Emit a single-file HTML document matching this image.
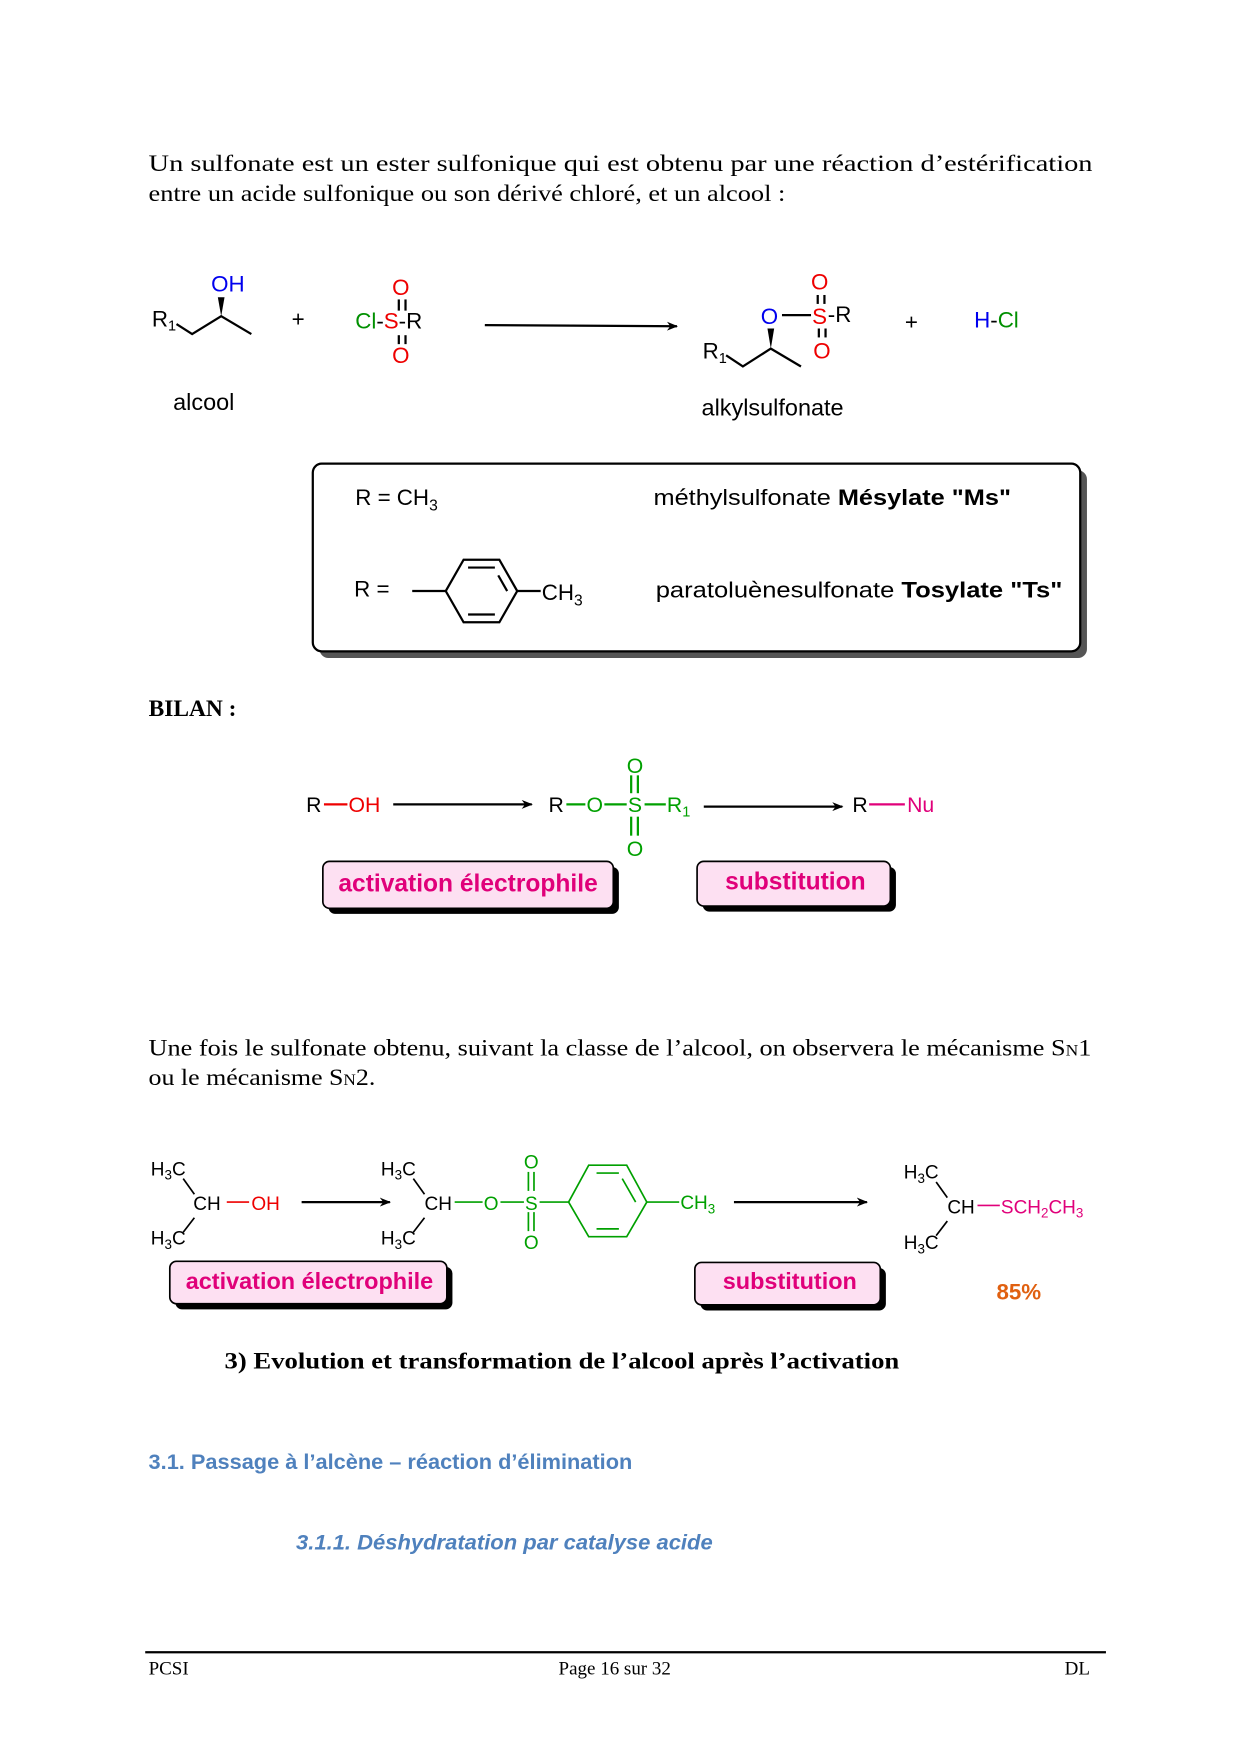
<!DOCTYPE html>
<html><head><meta charset="utf-8"><style>
html,body{margin:0;padding:0;background:#fff;}
svg{display:block;}
.serif{font-family:"Liberation Serif",serif;}
.sans{font-family:"Liberation Sans",sans-serif;}
</style></head><body>
<svg width="1240" height="1754" viewBox="0 0 1110 1570" xmlns="http://www.w3.org/2000/svg">
<defs>
<marker id="ah" markerWidth="10" markerHeight="8" refX="9" refY="4" orient="auto" markerUnits="userSpaceOnUse">
<path d="M0,0 L10,4 L0,8 L3,4 Z" fill="#000"/></marker>
</defs>
<g class="serif" font-size="21" fill="#000">
<text x="133" y="153" textLength="845" lengthAdjust="spacingAndGlyphs">Un sulfonate est un ester sulfonique qui est obtenu par une réaction d’estérification</text>
<text x="133" y="180" textLength="570" lengthAdjust="spacingAndGlyphs">entre un acide sulfonique ou son dérivé chloré, et un alcool :</text>
</g>
<!-- reaction 1 -->
<g class="sans" font-size="20">
<text x="136" y="292">R<tspan font-size="13" dy="4">1</tspan></text>
<text x="189" y="261" fill="#0000ee">OH</text>
<text x="261" y="292">+</text>
<text x="318" y="294"><tspan fill="#009000">Cl</tspan>-<tspan fill="#ee0000">S</tspan>-R</text>
<text x="351" y="264" fill="#ee0000">O</text>
<text x="351" y="325" fill="#ee0000">O</text>
<text x="681" y="290" fill="#0000ee">O</text>
<text x="727" y="290" fill="#ee0000">S</text><text x="741" y="288">-R</text>
<text x="726" y="259" fill="#ee0000">O</text>
<text x="728" y="321" fill="#ee0000">O</text>
<text x="629" y="321">R<tspan font-size="13" dy="4">1</tspan></text>
<text x="810" y="295">+</text>
<text x="872" y="293"><tspan fill="#0000ee">H</tspan>-<tspan fill="#009000">Cl</tspan></text>
<text x="155" y="367" font-size="21">alcool</text>
<text x="628" y="372" font-size="21">alkylsulfonate</text>
</g>
<g stroke="#000" stroke-width="2" fill="none">
<polyline points="158,290 172,299 198,283 225,299"/>
<polyline points="650,318 665,328 690,312 717,328"/>
<line x1="357" y1="268" x2="357" y2="278"/><line x1="363" y1="268" x2="363" y2="278"/>
<line x1="357" y1="300" x2="357" y2="308"/><line x1="363" y1="300" x2="363" y2="308"/>
<line x1="732" y1="264" x2="732" y2="272"/><line x1="738" y1="264" x2="738" y2="272"/>
<line x1="733" y1="294" x2="733" y2="302"/><line x1="739" y1="294" x2="739" y2="302"/>
<line x1="700" y1="282" x2="726" y2="282"/>
<line x1="434" y1="291" x2="606" y2="292" marker-end="url(#ah)"/>
</g>
<polygon points="198,283 195,266 201,266" fill="#000"/>
<polygon points="690,312 687,294 693,294" fill="#000"/>
<!-- box -->
<rect x="286" y="421" width="687" height="168" rx="8" fill="#555"/>
<rect x="280" y="415" width="687" height="168" rx="8" fill="#fff" stroke="#000" stroke-width="2"/>
<g class="sans" font-size="20">
<text x="318" y="452">R = CH<tspan font-size="14" dy="5">3</tspan></text>
<text x="585" y="452" textLength="320" lengthAdjust="spacingAndGlyphs">méthylsulfonate  <tspan font-weight="bold">Mésylate "Ms"</tspan></text>
<text x="317" y="534">R =</text>
<text x="485" y="537">CH<tspan font-size="14" dy="5">3</tspan></text>
<text x="587" y="535" textLength="364" lengthAdjust="spacingAndGlyphs">paratoluènesulfonate  <tspan font-weight="bold">Tosylate "Ts"</tspan></text>
</g>
<g stroke="#000" stroke-width="2" fill="none">
<line x1="369" y1="529" x2="399" y2="529"/>
<polygon points="399,529 415,501 447,501 463,529 447,557 415,557"/>
<line x1="419" y1="508" x2="443" y2="508"/><line x1="419" y1="550" x2="443" y2="550"/><line x1="454" y1="529" x2="446" y2="515"/>
<line x1="463" y1="529" x2="484" y2="529"/>
</g>
<text x="133" y="641" class="serif" font-size="21" font-weight="bold">BILAN :</text>
<!-- bilan scheme -->
<g class="sans" font-size="19">
<text x="274" y="727">R</text><text x="312" y="727" fill="#ee0000">OH</text>
<text x="491" y="727">R</text>
<text x="525" y="727" fill="#00a000">O</text><text x="562" y="727" fill="#00a000">S</text>
<text x="597" y="727" fill="#00a000">R<tspan font-size="13" dy="4">1</tspan></text>
<text x="561" y="692" fill="#00a000">O</text><text x="561" y="766" fill="#00a000">O</text>
<text x="763" y="727">R</text><text x="812" y="727" fill="#e0007a">Nu</text>
</g>
<g stroke-width="2" fill="none">
<line x1="290" y1="720" x2="311" y2="720" stroke="#ee0000"/>
<line x1="507" y1="720" x2="524" y2="720" stroke="#00a000"/>
<line x1="541" y1="720" x2="561" y2="720" stroke="#00a000"/>
<line x1="577" y1="720" x2="596" y2="720" stroke="#00a000"/>
<line x1="565" y1="694" x2="565" y2="710" stroke="#00a000"/><line x1="571" y1="694" x2="571" y2="710" stroke="#00a000"/>
<line x1="565" y1="731" x2="565" y2="748" stroke="#00a000"/><line x1="571" y1="731" x2="571" y2="748" stroke="#00a000"/>
<line x1="778" y1="720" x2="810" y2="720" stroke="#e0007a"/>
<line x1="352" y1="720" x2="476" y2="720" stroke="#000" marker-end="url(#ah)"/>
<line x1="630" y1="722" x2="754" y2="722" stroke="#000" marker-end="url(#ah)"/>
</g>
<g class="sans" font-size="22" font-weight="bold" fill="#e0007a">
<rect x="294" y="776" width="260" height="42" rx="6" fill="#000"/>
<rect x="289" y="771" width="260" height="42" rx="6" fill="#fde0f2" stroke="#000" stroke-width="1.5"/>
<text x="419" y="798" text-anchor="middle">activation électrophile</text>
<rect x="629" y="776" width="173" height="40" rx="6" fill="#000"/>
<rect x="624" y="771" width="173" height="40" rx="6" fill="#fde0f2" stroke="#000" stroke-width="1.5"/>
<text x="712" y="796" text-anchor="middle">substitution</text>
</g>
<g class="serif" font-size="21">
<text x="133" y="945" textLength="844" lengthAdjust="spacingAndGlyphs">Une fois le sulfonate obtenu, suivant la classe de l’alcool, on observera le mécanisme S<tspan font-size="14">N</tspan>1</text>
<text x="133" y="971" textLength="203" lengthAdjust="spacingAndGlyphs">ou le mécanisme S<tspan font-size="14">N</tspan>2.</text>
</g>
<!-- scheme 2 -->
<g class="sans" font-size="17">
<text x="135" y="1052">H<tspan font-size="12" dy="4">3</tspan><tspan dy="-4">C</tspan></text>
<text x="173" y="1083">CH</text><text x="225" y="1083" fill="#ee0000">OH</text>
<text x="135" y="1114">H<tspan font-size="12" dy="4">3</tspan><tspan dy="-4">C</tspan></text>
<text x="341" y="1052">H<tspan font-size="12" dy="4">3</tspan><tspan dy="-4">C</tspan></text>
<text x="380" y="1083">CH</text>
<text x="341" y="1114">H<tspan font-size="12" dy="4">3</tspan><tspan dy="-4">C</tspan></text>
<text x="433" y="1083" fill="#00a000">O</text><text x="470" y="1083" fill="#00a000">S</text>
<text x="469" y="1046" fill="#00a000">O</text><text x="469" y="1118" fill="#00a000">O</text>
<text x="609" y="1082" fill="#00a000">CH<tspan font-size="12" dy="4">3</tspan></text>
<text x="809" y="1055">H<tspan font-size="12" dy="4">3</tspan><tspan dy="-4">C</tspan></text>
<text x="848" y="1086">CH</text>
<text x="896" y="1086" fill="#e0007a">SCH<tspan font-size="12" dy="4">2</tspan><tspan dy="-4">CH</tspan><tspan font-size="12" dy="4">3</tspan></text>
<text x="809" y="1118">H<tspan font-size="12" dy="4">3</tspan><tspan dy="-4">C</tspan></text>
</g>
<g stroke-width="1.5" fill="none" stroke="#000">
<line x1="164" y1="1055" x2="174" y2="1069"/><line x1="174" y1="1090" x2="164" y2="1103"/>
<line x1="370" y1="1055" x2="380" y2="1069"/><line x1="380" y1="1090" x2="370" y2="1103"/>
<line x1="838" y1="1058" x2="848" y2="1072"/><line x1="848" y1="1093" x2="838" y2="1106"/>
<line x1="203" y1="1076" x2="223" y2="1076" stroke="#ee0000"/>
<line x1="875" y1="1079" x2="895" y2="1079" stroke="#e0007a"/>
<g stroke="#00a000">
<line x1="407" y1="1076" x2="432" y2="1076"/><line x1="448" y1="1076" x2="469" y2="1076"/>
<line x1="483" y1="1076" x2="509" y2="1076"/>
<line x1="473" y1="1049" x2="473" y2="1066"/><line x1="478" y1="1049" x2="478" y2="1066"/>
<line x1="473" y1="1085" x2="473" y2="1102"/><line x1="478" y1="1085" x2="478" y2="1102"/>
<polygon points="509,1076 527,1043 561,1043 579,1076 561,1107 527,1107"/>
<line x1="534" y1="1050" x2="554" y2="1050"/><line x1="534" y1="1100" x2="554" y2="1100"/><line x1="569" y1="1076" x2="557" y2="1055"/>
<line x1="579" y1="1076" x2="608" y2="1076"/>
</g>
<line x1="270" y1="1076" x2="349" y2="1076" stroke-width="2" marker-end="url(#ah)"/>
<line x1="657" y1="1076" x2="776" y2="1076" stroke-width="2" marker-end="url(#ah)"/>
</g>
<g class="sans" font-size="21" font-weight="bold" fill="#e0007a">
<rect x="157" y="1134" width="248" height="38" rx="6" fill="#000"/>
<rect x="152" y="1129" width="248" height="38" rx="6" fill="#fde0f2" stroke="#000" stroke-width="1.5"/>
<text x="277" y="1154" text-anchor="middle">activation électrophile</text>
<rect x="627" y="1135" width="166" height="38" rx="6" fill="#000"/>
<rect x="622" y="1130" width="166" height="38" rx="6" fill="#fde0f2" stroke="#000" stroke-width="1.5"/>
<text x="707" y="1154" text-anchor="middle">substitution</text>
</g>
<text x="892" y="1163" class="sans" font-size="20" font-weight="bold" fill="#e06010">85%</text>
<text x="201" y="1225" class="serif" font-size="21" font-weight="bold" textLength="604" lengthAdjust="spacingAndGlyphs">3) Evolution et transformation de l’alcool après l’activation</text>
<text x="133" y="1315" class="sans" font-size="19" font-weight="bold" fill="#4f81bd" textLength="433" lengthAdjust="spacingAndGlyphs">3.1. Passage à l’alcène – réaction d’élimination</text>
<text x="265" y="1387" class="sans" font-size="19" font-weight="bold" font-style="italic" fill="#4f81bd" textLength="373" lengthAdjust="spacingAndGlyphs">3.1.1. Déshydratation par catalyse acide</text>
<line x1="130" y1="1479" x2="990" y2="1479" stroke="#000" stroke-width="2"/>
<g class="serif" font-size="17">
<text x="133" y="1499">PCSI</text>
<text x="500" y="1499">Page 16 sur 32</text>
<text x="953" y="1499">DL</text>
</g>
</svg>
</body></html>
